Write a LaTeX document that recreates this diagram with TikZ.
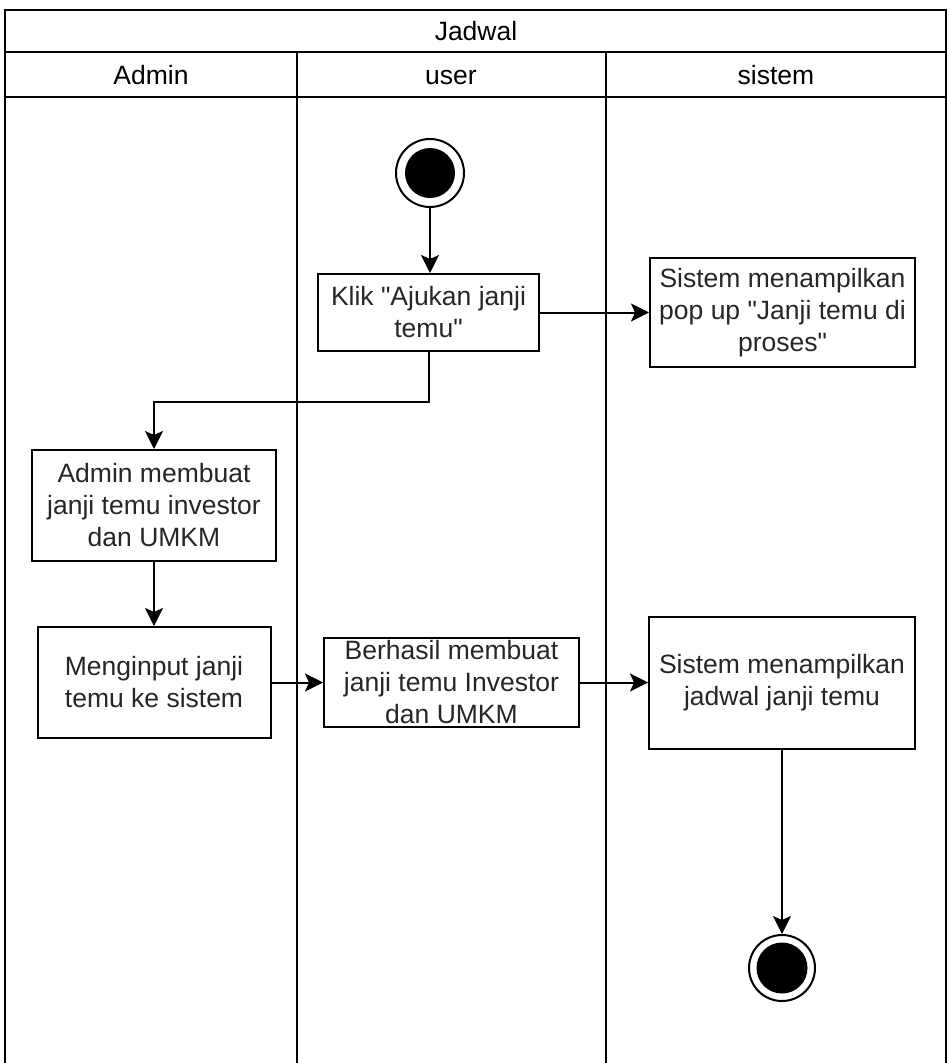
\documentclass[tikz,border=0pt]{standalone}
\usepackage{fontspec}
\setmainfont{Liberation Sans}
\usetikzlibrary{arrows.meta}

\begin{document}
\begin{tikzpicture}[x=1pt,y=1pt,line width=2pt,
  act/.style={draw,rectangle,inner sep=0pt,align=center,text=black!85,font=\fontsize{26.5}{32}\selectfont},
  flow/.style={-{Stealth[length=18pt,width=18pt,inset=4pt]}},
  lanelabel/.style={inner sep=0pt,text height=19pt,text depth=6pt,font=\fontsize{26.5}{32}\selectfont}]
\useasboundingbox (0,0) rectangle (948,-1063);
% swimlanes
\draw (5,-1063) -- (5,-10) -- (946,-10) -- (946,-1063);
\draw (5,-52) -- (946,-52);
\draw (5,-97) -- (946,-97);
\draw (297,-52) -- (297,-1063);
\draw (606,-52) -- (606,-1063);
\node[lanelabel] (title) at (476,-34) {Jadwal};
\node[lanelabel] (ladmin) at (151,-78) {Admin};
\node[lanelabel] (luser) at (451,-78) {user};
\node[lanelabel] (lsistem) at (776,-78) {sistem};
% start and end
\node[draw,circle,minimum size=68pt,inner sep=0pt] (start) at (430,-173) {};
\fill (start) circle (25);
\node[draw,circle,minimum size=66pt,inner sep=0pt] (end) at (782,-968) {};
\fill (end) circle (25.5);
% activities
\node[act,minimum width=221pt,minimum height=77pt] (klik) at (428.5,-312.5)
  {Klik \textquotedbl Ajukan janji\\temu\textquotedbl};
\node[act,minimum width=265pt,minimum height=109pt] (popup) at (782.5,-312.5)
  {Sistem menampilkan\\pop up \textquotedbl Janji temu di\\proses\textquotedbl};
\node[act,minimum width=244pt,minimum height=111pt] (admin) at (154,-505.5)
  {Admin membuat\\janji temu investor\\dan UMKM};
\node[act,minimum width=233pt,minimum height=111pt] (input) at (154,-682.5)
  {Menginput janji\\temu ke sistem};
\node[act,minimum width=255pt,minimum height=89pt] (berhasil) at (451.5,-682.5)
  {Berhasil membuat\\janji temu Investor\\dan UMKM};
\node[act,minimum width=266pt,minimum height=132pt] (jadwal) at (782,-682.5)
  {Sistem menampilkan\\jadwal janji temu};
% flows
\draw[flow] (start) -- (start |- klik.north);
\draw[flow] (klik) -- (popup);
\draw[flow] (klik.south) -- ++(0,-50) -| (admin.north);
\draw[flow] (admin) -- (input);
\draw[flow] (input) -- (berhasil);
\draw[flow] (berhasil) -- (jadwal);
\draw[flow] (jadwal) -- (end);
\end{tikzpicture}
\end{document}
